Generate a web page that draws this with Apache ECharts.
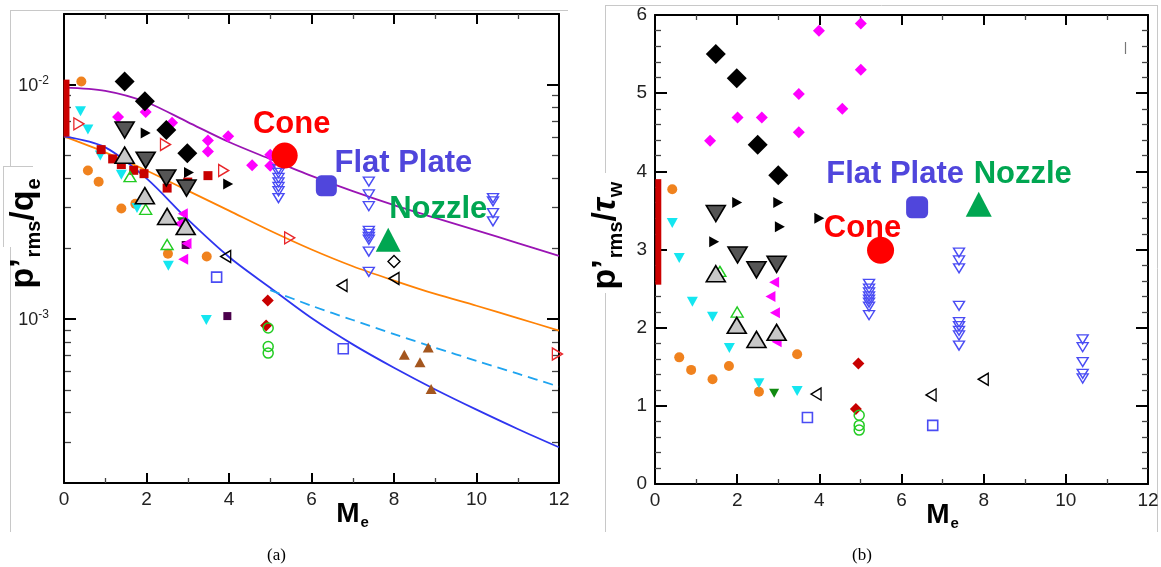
<!DOCTYPE html>
<html>
<head>
<meta charset="utf-8">
<script src="https://cdn.jsdelivr.net/npm/echarts@6/dist/echarts.min.js"></script>
<style>
html,body{margin:0;padding:0;background:#fff;}
#chart{width:1161px;height:567px;}
</style>
</head>
<body>
<div id="chart"></div>
<script>
// ---------- axes ----------
const machTicks = [0, 2, 4, 6, 8, 10, 12];
const logRange = [0.0002, 0.02];
const logMinorTicks = [0.0003, 0.0004, 0.0005, 0.0006, 0.0007, 0.0008, 0.0009,
                       0.002, 0.003, 0.004, 0.005, 0.006, 0.007, 0.008, 0.009];
const tauTicks = [0, 1, 2, 3, 4, 5, 6];

// ---------- panel (a): p'rms/qe ----------
const curveMach = [0, 1, 2, 3, 4, 5, 6, 7, 8, 9, 10, 11, 12];
const purpleFit = [0.0097, 0.0094, 0.00841, 0.00692, 0.00569, 0.00481, 0.00408, 0.00351, 0.00306, 0.0027, 0.00239, 0.00211, 0.00186];
const orangeFit = [0.00601, 0.00514, 0.0043, 0.00353, 0.0029, 0.00238, 0.00198, 0.00168, 0.00146, 0.00128, 0.00114, 0.00101, 0.000893];
const blueFit = [0.00601, 0.0054, 0.00398, 0.00266, 0.00184, 0.00136, 0.00101, 0.00078, 0.00062, 0.000501, 0.000411, 0.00034, 0.000284];
const dashMach = [5, 6, 7, 8, 9, 10, 11, 12];
const dashFit = [0.00133, 0.00114, 0.000991, 0.000863, 0.000755, 0.000664, 0.000585, 0.000515];
const sensorBarA = [[0.06, 0.0105], [0.06, 0.006]];

const blackDiamondsA = [[1.47, 0.0103], [1.96, 0.0085], [2.48, 0.0064], [2.99, 0.0051]];
const darkDownA = [[1.47, 0.0064], [1.98, 0.00476], [2.48, 0.0040], [2.97, 0.00362]];
const lightUpA = [[1.47, 0.0050], [1.96, 0.00336], [2.50, 0.00274], [2.95, 0.00248]];
const redSquaresA = [[0.90, 0.00528], [1.18, 0.00482], [1.39, 0.00456], [1.69, 0.00431], [1.94, 0.00417], [2.50, 0.00362], [3.00, 0.00384], [3.49, 0.00409]];
const magentaDiamondsA = [[1.31, 0.00728], [1.98, 0.00764], [2.62, 0.00687], [3.49, 0.00577], [3.49, 0.00519], [3.98, 0.00602], [4.56, 0.00453], [5.0, 0.00502], [5.0, 0.00451]];
const blackRightA = [[1.98, 0.00622], [3.03, 0.00422], [3.98, 0.00377]];
const redOpenRightA = [[0.36, 0.0068], [2.46, 0.00555], [3.87, 0.0043], [5.47, 0.00222], [11.96, 0.00071]];
const cyanDownA = [[0.40, 0.00769], [0.58, 0.00643], [0.88, 0.00498], [1.39, 0.00413], [1.77, 0.00298], [2.53, 0.00169], [3.45, 0.00099]];
const greenOpenUpA = [[1.60, 0.00405], [1.98, 0.00294], [2.50, 0.00208]];
const orangeCirclesA = [[0.42, 0.0103], [0.58, 0.0043], [0.84, 0.00385], [1.39, 0.00296], [1.73, 0.0031], [2.52, 0.0019], [3.46, 0.00185]];
const magentaLeftA = [[2.88, 0.00281], [2.78, 0.00255], [2.97, 0.0021], [2.89, 0.0018]];
const purpleSquaresA = [[2.95, 0.00207], [3.96, 0.00103]];
const greenDownA = [[2.86, 0.0026]];
const blackOpenLeftA = [[3.92, 0.00185], [6.74, 0.00139], [8.0, 0.00149]];
const blackOpenDiamondA = [[8.0, 0.00176]];
const blueOpenSquaresA = [[3.70, 0.00151], [6.77, 0.000747]];
const redDiamondsA = [[4.94, 0.0012], [4.90, 0.00094]];
const greenOpenCirclesA = [[4.95, 0.000916], [4.95, 0.000764], [4.95, 0.000716]];
const blueOpenDownA = [[5.2, 0.00436], [5.2, 0.0042], [5.2, 0.0040], [5.2, 0.00383], [5.2, 0.00366], [5.2, 0.00351], [5.2, 0.00328],
                       [7.39, 0.00386], [7.39, 0.0034], [7.39, 0.00303], [7.39, 0.00238], [7.39, 0.00231], [7.39, 0.00224], [7.39, 0.00218], [7.39, 0.00194], [7.39, 0.00159],
                       [10.4, 0.00328], [10.4, 0.00318], [10.4, 0.00283], [10.4, 0.00261]];
const brownUpA = [[8.25, 0.000705], [8.83, 0.000757], [8.63, 0.000654], [8.90, 0.000503]];
const coneA = [5.35, 0.00498];
const flatPlateA = [6.36, 0.0037];
const nozzleA = [7.86, 0.00218];

// ---------- panel (b): p'rms/tau_w ----------
const sensorBarB = [[0.08, 3.9], [0.08, 2.55]];
const blackDiamondsB = [[1.48, 5.50], [1.99, 5.19], [2.50, 4.34], [3.0, 3.95]];
const magentaDiamondsB = [[1.34, 4.39], [2.01, 4.69], [2.60, 4.69], [3.50, 4.99], [3.50, 4.50], [3.99, 5.80], [4.56, 4.80], [5.01, 5.89], [5.01, 5.30]];
const darkDownB = [[1.48, 3.46], [2.01, 2.93], [2.47, 2.74], [2.96, 2.81]];
const lightUpB = [[1.48, 2.69], [1.99, 2.03], [2.47, 1.85], [2.96, 1.94]];
const blackRightB = [[2.0, 3.60], [3.0, 3.60], [3.04, 3.29], [1.44, 3.10], [4.0, 3.40]];
const cyanDownB = [[0.42, 3.34], [0.59, 2.89], [0.91, 2.33], [1.40, 2.14], [1.81, 1.74], [2.53, 1.29], [3.46, 1.19]];
const greenDownB = [[2.90, 1.16]];
const orangeCirclesB = [[0.42, 3.77], [0.59, 1.62], [0.88, 1.46], [1.40, 1.34], [1.80, 1.51], [2.53, 1.18], [3.46, 1.66]];
const greenOpenUpB = [[2.0, 2.20], [1.58, 2.72]];
const magentaLeftB = [[2.90, 2.58], [2.81, 2.40], [2.92, 2.19], [2.96, 1.82]];
const blackOpenLeftB = [[3.92, 1.15], [6.72, 1.14], [7.99, 1.34]];
const blueOpenSquaresB = [[3.71, 0.85], [6.76, 0.75]];
const redDiamondsB = [[4.95, 1.54], [4.89, 0.96]];
const greenOpenCirclesB = [[4.97, 0.88], [4.97, 0.75], [4.97, 0.69]];
const blueOpenDownB = [[5.21, 2.56], [5.21, 2.50], [5.21, 2.45], [5.21, 2.40], [5.21, 2.36], [5.21, 2.32], [5.21, 2.27], [5.21, 2.16],
                       [7.40, 2.96], [7.40, 2.86], [7.40, 2.76], [7.40, 2.28], [7.40, 2.07], [7.40, 2.02], [7.40, 1.96], [7.40, 1.90], [7.40, 1.77],
                       [10.41, 1.85], [10.41, 1.75], [10.41, 1.56], [10.41, 1.41], [10.41, 1.35]];
const coneB = [5.49, 2.99];
const flatPlateB = [6.38, 3.54];
const nozzleB = [7.88, 3.58];

// ---------- styling ----------
const FONT = '"Liberation Sans", Arial, Helvetica, sans-serif';
const C = {
  magenta: '#ff00ff', cyan: '#14e6f0', orange: '#f0821e', darkRed: '#c80000',
  red: '#e8262a', green: '#22cc22', darkGreen: '#108a10', plum: '#4b004b',
  blue: '#4a4cf4', brown: '#a4561e', cone: '#ff0000', plate: '#5046dc', nozzle: '#00a651',
  darkGray: '#555555', lightGray: '#c8c8c8'
};

const chart = echarts.init(document.getElementById('chart'), null, { renderer: 'canvas' });

function xAxisCfg(grid, pos, labels) {
  return {
    type: 'value', gridIndex: grid, position: pos,
    min: machTicks[0], max: machTicks[machTicks.length - 1], interval: machTicks[1] - machTicks[0],
    axisLine: { show: true, onZero: false, lineStyle: { color: '#000', width: 2 } },
    axisTick: { show: true, inside: true, length: 10, lineStyle: { color: '#000', width: 2 } },
    minorTick: { show: true, splitNumber: 2, length: 5, lineStyle: { color: '#444', width: 1.3 } },
    splitLine: { show: false }, minorSplitLine: { show: false },
    axisLabel: { show: labels, margin: 7, fontSize: 19, color: '#222', fontFamily: FONT },
    name: labels ? '{m|M}{s|e}' : '',
    nameLocation: 'middle', nameGap: 17, nameMoveOverlap: false,
    nameTextStyle: {
      padding: [0, 0, 0, 82],
      rich: {
        m: { fontSize: 28, fontWeight: 'bold', fontFamily: FONT, color: '#000', lineHeight: 28, verticalAlign: 'top' },
        s: { fontSize: 15, fontWeight: 'bold', fontFamily: FONT, color: '#000', lineHeight: 16, verticalAlign: 'top', padding: [15, 0, 0, 1] }
      }
    }
  };
}

function logLabel(v) {
  const e = Math.log10(v), r = Math.round(e);
  if (Math.abs(e - r) > 1e-6) return '';
  return '{b|10}{e|' + r + '}';
}

const titleRich = {
  p: { fontSize: 34, fontWeight: 'bold', fontFamily: FONT, color: '#000', lineHeight: 34, verticalAlign: 'top' },
  t: { fontSize: 34, fontWeight: 'bold', fontStyle: 'italic', fontFamily: FONT, color: '#000', lineHeight: 34, verticalAlign: 'top' },
  s: { fontSize: 20, fontWeight: 'bold', fontFamily: FONT, color: '#000', lineHeight: 20, verticalAlign: 'top', padding: [17, 0, 0, 1] }
};

function yLogCfg(pos, labels) {
  return {
    type: 'log', logBase: 10, gridIndex: 0, position: pos,
    min: logRange[0], max: logRange[1],
    axisLine: { show: true, onZero: false, lineStyle: { color: '#000', width: 2 } },
    axisTick: { show: true, inside: true, length: 12, lineStyle: { color: '#000', width: 2 } },
    splitLine: { show: false },
    axisLabel: {
      show: labels, margin: 15, formatter: logLabel, fontFamily: FONT, color: '#222',
      rich: {
        b: { fontSize: 18, fontFamily: FONT, color: '#222', lineHeight: 20, verticalAlign: 'top', padding: [2, 0, 0, 0] },
        e: { fontSize: 12, fontFamily: FONT, color: '#222', lineHeight: 12, verticalAlign: 'top' }
      }
    },
    name: labels ? '{p|p’}{s|rms}{p|/q}{s|e}' : '',
    nameLocation: 'middle', nameRotate: 90, nameGap: 23, nameMoveOverlap: false,
    nameTextStyle: { padding: [0, 0, 0, 30], rich: titleRich }
  };
}

function yLinCfg(pos, labels) {
  return {
    type: 'value', gridIndex: 1, position: pos,
    min: tauTicks[0], max: tauTicks[tauTicks.length - 1], interval: tauTicks[1] - tauTicks[0],
    axisLine: { show: true, onZero: false, lineStyle: { color: '#000', width: 2 } },
    axisTick: { show: true, inside: true, length: 12, lineStyle: { color: '#000', width: 2 } },
    minorTick: { show: true, splitNumber: 5, length: 6, lineStyle: { color: '#444', width: 1.3 } },
    splitLine: { show: false }, minorSplitLine: { show: false },
    axisLabel: { show: labels, margin: 8, fontSize: 19, color: '#222', fontFamily: FONT },
    name: labels ? '{p|p’}{s|rms}{p|/}{t|τ}{s|w}' : '',
    nameLocation: 'middle', nameRotate: 90, nameGap: 32, nameMoveOverlap: false,
    nameTextStyle: { padding: [0, 0, 0, 28], rich: titleRich }
  };
}

// scatter helper: panel 0 = (a), 1 = (b)
function pts(panel, data, symbol, size, fill, stroke, rotate, bw) {
  return {
    type: 'scatter', xAxisIndex: panel * 2, yAxisIndex: panel * 2,
    data: data, symbol: symbol, symbolSize: size, symbolRotate: rotate || 0,
    itemStyle: { color: fill, borderColor: stroke || fill, borderWidth: stroke ? (bw || 1.4) : 0, opacity: 1 },
    emphasis: { disabled: true }, silent: true, animation: false
  };
}
const OPEN = 'rgba(0,0,0,0)';

function curve(xs, ys, color, dashed) {
  return {
    type: 'line', xAxisIndex: 0, yAxisIndex: 0,
    data: xs.map((m, i) => [m, ys[i]]), showSymbol: false, symbol: 'none',
    smooth: 0.3, lineStyle: { color: color, width: 1.8, type: dashed ? [10, 6] : 'solid' },
    emphasis: { disabled: true }, silent: true, animation: false, z: 1
  };
}
function bar(panel, data) {
  return {
    type: 'line', xAxisIndex: panel * 2, yAxisIndex: panel * 2, data: data, symbol: 'none',
    lineStyle: { color: '#cc0000', width: 6, cap: 'butt' }, silent: true, animation: false, z: 1
  };
}
function tagged(panel, name, point, symbol, size, color, offset) {
  return {
    type: 'scatter', name: name, xAxisIndex: panel * 2, yAxisIndex: panel * 2,
    data: [point], symbol: symbol, symbolSize: size,
    itemStyle: { color: color, opacity: 1 },
    label: {
      show: true, position: 'inside', offset: offset, formatter: '{a}',
      fontSize: 31, fontWeight: 'bold', fontFamily: FONT, color: color, align: 'center', verticalAlign: 'middle'
    },
    emphasis: { disabled: true }, silent: true, animation: false, z: 5
  };
}

function panelMarkers(p, d) {
  return [
    pts(p, d.orangeCircles, 'circle', 10, C.orange),
    pts(p, d.cyanDown, 'triangle', [11, 10], C.cyan, null, 180),
    pts(p, d.redSquares || [], 'rect', 9, C.darkRed),
    pts(p, d.magentaDiamonds, 'diamond', 12, C.magenta),
    pts(p, d.redOpenRight || [], 'triangle', [12, 10], OPEN, C.red, -90),
    pts(p, d.greenOpenUp, 'triangle', [12, 10], OPEN, C.green),
    pts(p, d.purpleSquares || [], 'rect', 8, C.plum),
    pts(p, d.greenDown, 'triangle', [10, 9], C.darkGreen, null, 180),
    pts(p, d.magentaLeft, 'triangle', [11, 10], C.magenta, null, 90),
    pts(p, d.blackRight, 'triangle', [11, 10], '#000', null, -90),
    pts(p, d.blackOpenLeft, 'triangle', [12, 10], OPEN, '#000', 90),
    pts(p, d.blackOpenDiamond || [], 'diamond', 12, OPEN, '#000'),
    pts(p, d.blueOpenSquares, 'rect', 10, OPEN, C.blue, 0, 1.6),
    pts(p, d.redDiamonds, 'diamond', 12, C.darkRed),
    pts(p, d.greenOpenCircles, 'circle', 10, OPEN, C.green, 0, 1.5),
    pts(p, d.blueOpenDown, 'triangle', [11, 9], OPEN, C.blue, 180, 1.4),
    pts(p, d.brownUp || [], 'triangle', [11, 10], C.brown),
    pts(p, d.blackDiamonds, 'diamond', 20, '#000'),
    pts(p, d.darkDown, 'triangle', [19, 16], C.darkGray, '#000', 180, 1.6),
    pts(p, d.lightUp, 'triangle', [19, 16], C.lightGray, '#000', 0, 1.6)
  ];
}

const seriesA = [
  curve(curveMach, purpleFit, '#9a14b4'),
  curve(curveMach, orangeFit, '#ff8205'),
  curve(curveMach, blueFit, '#2f35f0'),
  curve(dashMach, dashFit, '#1ea4f0', true),
  bar(0, sensorBarA)
].concat(panelMarkers(0, {
  orangeCircles: orangeCirclesA, cyanDown: cyanDownA, redSquares: redSquaresA, magentaDiamonds: magentaDiamondsA,
  redOpenRight: redOpenRightA, greenOpenUp: greenOpenUpA, purpleSquares: purpleSquaresA, greenDown: greenDownA,
  magentaLeft: magentaLeftA, blackRight: blackRightA, blackOpenLeft: blackOpenLeftA, blackOpenDiamond: blackOpenDiamondA,
  blueOpenSquares: blueOpenSquaresA, redDiamonds: redDiamondsA, greenOpenCircles: greenOpenCirclesA,
  blueOpenDown: blueOpenDownA, brownUp: brownUpA, blackDiamonds: blackDiamondsA, darkDown: darkDownA, lightUp: lightUpA
})).concat([
  tagged(0, 'Cone', coneA, 'circle', 26, C.cone, [7, -31]),
  tagged(0, 'Flat Plate', flatPlateA, 'roundRect', 21, C.plate, [77, -22]),
  tagged(0, 'Nozzle', nozzleA, 'triangle', [25, 24], C.nozzle, [50, -30])
]);

const seriesB = [bar(1, sensorBarB)].concat(panelMarkers(1, {
  orangeCircles: orangeCirclesB, cyanDown: cyanDownB, magentaDiamonds: magentaDiamondsB,
  greenOpenUp: greenOpenUpB, greenDown: greenDownB, magentaLeft: magentaLeftB, blackRight: blackRightB,
  blackOpenLeft: blackOpenLeftB, blueOpenSquares: blueOpenSquaresB, redDiamonds: redDiamondsB,
  greenOpenCircles: greenOpenCirclesB, blueOpenDown: blueOpenDownB, blackDiamonds: blackDiamondsB,
  darkDown: darkDownB, lightUp: lightUpB
})).concat([
  tagged(1, 'Cone', coneB, 'circle', 27, C.cone, [-18, -22]),
  tagged(1, 'Flat Plate', flatPlateB, 'roundRect', 22, C.plate, [-22, -33]),
  tagged(1, 'Nozzle', nozzleB, 'triangle', [26, 25], C.nozzle, [44, -30])
]);

chart.setOption({
  animation: false,
  backgroundColor: '#fff',
  grid: [
    { left: 64, top: 14, width: 495, height: 469, outerBoundsMode: 'none', containLabel: false },
    { left: 655, top: 15, width: 493, height: 469, outerBoundsMode: 'none', containLabel: false }
  ],
  xAxis: [xAxisCfg(0, 'bottom', true), xAxisCfg(0, 'top', false), xAxisCfg(1, 'bottom', true), xAxisCfg(1, 'top', false)],
  yAxis: [yLogCfg('left', true), yLogCfg('right', false), yLinCfg('left', true), yLinCfg('right', false)],
  series: seriesA.concat(seriesB)
});

// Minor ticks of the logarithmic axis (2..9 per decade), placed with the axis scale
const tickLines = [];
logMinorTicks.forEach(v => {
  const l = chart.convertToPixel({ xAxisIndex: 0, yAxisIndex: 0 }, [machTicks[0], v]);
  const r = chart.convertToPixel({ xAxisIndex: 0, yAxisIndex: 0 }, [machTicks[machTicks.length - 1], v]);
  const y = Math.round(l[1]) + 0.5;
  tickLines.push({ type: 'line', silent: true, shape: { x1: l[0], y1: y, x2: l[0] + 7, y2: y }, style: { stroke: '#444', lineWidth: 1.3 } });
  tickLines.push({ type: 'line', silent: true, shape: { x1: r[0] - 7, y1: y, x2: r[0], y2: y }, style: { stroke: '#444', lineWidth: 1.3 } });
});

const frame = { stroke: '#c8c8c8', lineWidth: 1 };
const frameLines = [
  { type: 'line', silent: true, shape: { x1: 10, y1: 10.5, x2: 568, y2: 10.5 }, style: frame },
  { type: 'line', silent: true, shape: { x1: 10.5, y1: 10, x2: 10.5, y2: 166 }, style: frame },
  { type: 'line', silent: true, shape: { x1: 3, y1: 166.5, x2: 33, y2: 166.5 }, style: frame },
  { type: 'line', silent: true, shape: { x1: 3.5, y1: 166, x2: 3.5, y2: 247 }, style: frame },
  { type: 'line', silent: true, shape: { x1: 10.5, y1: 247, x2: 10.5, y2: 532 }, style: frame },
  { type: 'line', silent: true, shape: { x1: 605, y1: 5.5, x2: 1158, y2: 5.5 }, style: frame },
  { type: 'line', silent: true, shape: { x1: 605.5, y1: 5, x2: 605.5, y2: 173 }, style: frame },
  { type: 'line', silent: true, shape: { x1: 605.5, y1: 293, x2: 605.5, y2: 532 }, style: frame },
  { type: 'line', silent: true, shape: { x1: 1157.5, y1: 5, x2: 1157.5, y2: 532 }, style: frame },
  { type: 'line', silent: true, shape: { x1: 1125.5, y1: 42, x2: 1125.5, y2: 54 }, style: { stroke: '#777', lineWidth: 1.2 } }
];

const captions = [
  { type: 'text', silent: true, left: 267, top: 547, style: { text: '(a)', font: '17px "Liberation Serif", "Times New Roman", serif', fill: '#000' } },
  { type: 'text', silent: true, left: 852, top: 547, style: { text: '(b)', font: '17px "Liberation Serif", "Times New Roman", serif', fill: '#000' } }
];

chart.setOption({ graphic: frameLines.concat(tickLines, captions) });
</script>
</body>
</html>
